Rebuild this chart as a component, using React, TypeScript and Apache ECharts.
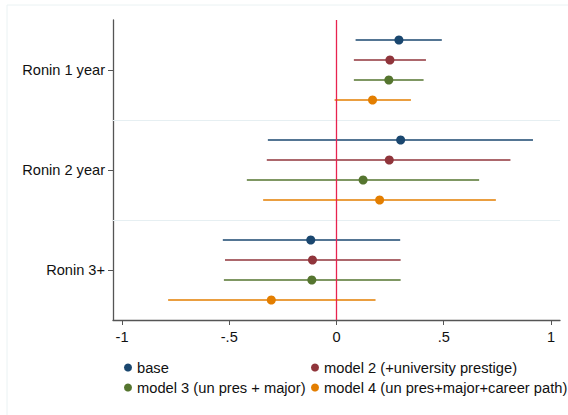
import React, { useEffect, useRef } from "react";
import * as echarts from "echarts";

const categories = ["Ronin 1 year", "Ronin 2 year", "Ronin 3+"];
const modelNames = [
  "base",
  "model 2 (+university prestige)",
  "model 3 (un pres + major)",
  "model 4 (un pres+major+career path)",
];
const modelColors = ["#1a476f", "#90353b", "#55752f", "#e37e00"];

const baseEst = [0.291, 0.299, -0.12];
const baseLo = [0.089, -0.32, -0.53];
const baseHi = [0.491, 0.916, 0.297];

const m2Est = [0.249, 0.246, -0.112];
const m2Lo = [0.081, -0.325, -0.52];
const m2Hi = [0.417, 0.811, 0.299];

const m3Est = [0.244, 0.124, -0.115];
const m3Lo = [0.081, -0.418, -0.525];
const m3Hi = [0.406, 0.665, 0.299];

const m4Est = [0.168, 0.201, -0.304];
const m4Lo = [-0.009, -0.342, -0.785];
const m4Hi = [0.347, 0.743, 0.182];

const xTicks = [-1, -0.5, 0, 0.5, 1];
const xTickLabels = ["-1", "-.5", "0", ".5", "1"];

const FONT = "Liberation Sans, Arial, sans-serif";

export default function App() {
  const ref = useRef<HTMLDivElement>(null);
  useEffect(() => {
    if (!ref.current) return;
    const chart = echarts.init(ref.current, null, { renderer: "svg" });
    const models = [
      [baseEst, baseLo, baseHi],
      [m2Est, m2Lo, m2Hi],
      [m3Est, m3Lo, m3Hi],
      [m4Est, m4Lo, m4Hi],
    ];
    const series: any[] = models.map((m, mi) => {
      const data = categories.map((_, ci) => [m[0][ci], m[1][ci], m[2][ci], ci * 5 + mi + 1]);
      return {
        type: "custom",
        name: modelNames[mi],
        itemStyle: { color: modelColors[mi] },
        encode: { x: [0, 1, 2], y: 3 },
        data,
        renderItem: (params: any, api: any) => {
          const y = api.value(3);
          const pEst = api.coord([api.value(0), y]);
          const pLo = api.coord([api.value(1), y]);
          const pHi = api.coord([api.value(2), y]);
          return {
            type: "group",
            children: [
              {
                type: "line",
                shape: { x1: pLo[0], y1: pLo[1], x2: pHi[0], y2: pHi[1] },
                style: { stroke: modelColors[mi], lineWidth: 1.3 },
              },
              {
                type: "circle",
                shape: { cx: pEst[0], cy: pEst[1], r: 4.5 },
                style: { fill: modelColors[mi] },
              },
            ],
          };
        },
        z: 3,
      };
    });
    series.push({
      type: "line",
      data: [],
      silent: true,
      markLine: {
        silent: true,
        symbol: "none",
        label: { show: false },
        data: [
          { yAxis: 5, lineStyle: { color: "#e6eff2", width: 1, type: "solid" } },
          { yAxis: 10, lineStyle: { color: "#e6eff2", width: 1, type: "solid" } },
          { xAxis: 0, lineStyle: { color: "#e8234f", width: 1.3, type: "solid" } },
        ],
      },
      z: 2,
    });

    chart.setOption({
      animation: false,
      backgroundColor: "#ffffff",
      grid: { left: 113, right: 8, top: 20, bottom: 95 },
      xAxis: {
        type: "value",
        min: -1.042,
        max: 1.042,
        splitLine: { show: false },
        axisLine: { show: true, onZero: false, lineStyle: { color: "#555", width: 1.3 } },
        axisTick: { show: true, customValues: xTicks, length: 5, lineStyle: { color: "#555" } },
        axisLabel: {
          customValues: xTicks,
          formatter: (v: number) => {
            const i = xTicks.findIndex((t) => Math.abs(t - v) < 1e-6);
            return i >= 0 ? xTickLabels[i] : "";
          },
          color: "#111",
          fontSize: 14.6,
          fontFamily: FONT,
          margin: 9,
        },
      },
      yAxis: {
        type: "value",
        min: 0,
        max: 15,
        inverse: true,
        splitLine: { show: false },
        axisLine: { show: true, onZero: false, lineStyle: { color: "#555", width: 1.3 } },
        axisTick: { show: true, customValues: [2.5, 7.5, 12.5], length: 5, lineStyle: { color: "#555" } },
        axisLabel: {
          customValues: [2.5, 7.5, 12.5],
          formatter: (v: number) => categories[Math.round((v - 2.5) / 5)] ?? "",
          color: "#111",
          fontSize: 14.6,
          fontFamily: FONT,
          margin: 8,
        },
      },
      legend: [
        {
          data: [modelNames[0], modelNames[2]],
          orient: "vertical",
          left: 119,
          top: 355,
          icon: "circle",
          itemWidth: 8,
          itemHeight: 8,
          itemGap: 5,
          textStyle: { color: "#111", fontSize: 14.7, fontFamily: FONT },
          selectedMode: false,
        },
        {
          data: [modelNames[1], modelNames[3]],
          orient: "vertical",
          left: 306,
          top: 355,
          icon: "circle",
          itemWidth: 8,
          itemHeight: 8,
          itemGap: 5,
          textStyle: { color: "#111", fontSize: 14.7, fontFamily: FONT },
          selectedMode: false,
        },
      ],
      graphic: [
        {
          type: "rect",
          shape: { x: 7, y: 5, width: 570, height: 420 },
          style: { fill: "none", stroke: "#eaf2f3", lineWidth: 1 },
          silent: true,
        },
      ],
      series,
    });
    return () => chart.dispose();
  }, []);
  return (
    <div
      ref={ref}
      style={{ position: "absolute", left: 0, top: 0, width: 568, height: 415 }}
    />
  );
}
